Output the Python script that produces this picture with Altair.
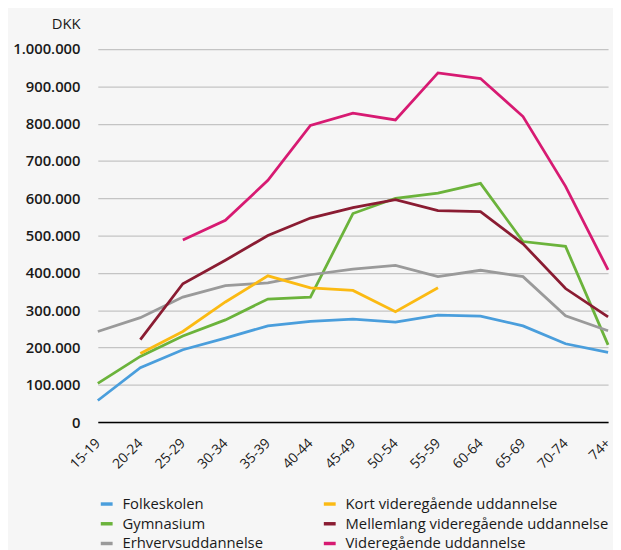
import altair as alt
import pandas as pd

ages = ["15-19", "20-24", "25-29", "30-34", "35-39", "40-44", "45-49",
        "50-54", "55-59", "60-64", "65-69", "70-74", "74+"]

series_names = ["Folkeskolen", "Gymnasium", "Erhvervsuddannelse",
                "Kort videregående uddannelse",
                "Mellemlang videregående uddannelse",
                "Videregående uddannelse"]
colors = ["#4A9EDC", "#6BB33B", "#9A9A9A", "#FBBA13", "#8A1C32", "#D71A72"]

folkeskolen = [58000, 146000, 194000, 225000, 258000, 270000, 276000,
               268000, 287000, 284000, 258000, 210000, 187000]
gymnasium = [104000, 176000, 231000, 274000, 330000, 335000, 559000,
             600000, 614000, 640000, 484000, 471000, 207000]
erhverv = [243000, 280000, 335000, 366000, 373000, 395000, 410000,
           420000, 390000, 407000, 390000, 285000, 245000]
kort = [None, 184000, 243000, 322000, 392000, 360000, 353000,
        296000, 360000, None, None, None, None]
mellemlang = [None, 221000, 371000, 434000, 500000, 547000, 575000,
              596000, 567000, 564000, 478000, 358000, 282000]
videre = [None, None, 488000, 541000, 648000, 795000, 828000,
          810000, 936000, 921000, 819000, 632000, 408000]

values = {
    "Folkeskolen": folkeskolen,
    "Gymnasium": gymnasium,
    "Erhvervsuddannelse": erhverv,
    "Kort videregående uddannelse": kort,
    "Mellemlang videregående uddannelse": mellemlang,
    "Videregående uddannelse": videre,
}

rows = []
for name in series_names:
    for age, v in zip(ages, values[name]):
        if v is not None:
            rows.append({"alder": age, "serie": name, "dkk": v})
df = pd.DataFrame(rows)

FONT = "Open Sans"

chart = alt.Chart(df).mark_line(strokeWidth=2.8, strokeJoin="miter").encode(
    x=alt.X("alder:N", sort=ages,
            scale=alt.Scale(type="point", padding=0),
            axis=alt.Axis(title=None, labelAngle=-45, labelAlign="right",
                          labelBaseline="middle", labelPadding=19,
                          ticks=False, grid=False, domainColor="#000000",
                          domainWidth=1.5, labelFont=FONT, labelFontSize=14,
                          labelColor="#1a1a1a")),
    y=alt.Y("dkk:Q",
            scale=alt.Scale(domain=[0, 1000000]),
            axis=alt.Axis(title="DKK", titleAngle=0, titleAlign="right",
                          titleBaseline="alphabetic", titleX=-18, titleY=-21,
                          titleFont=FONT, titleFontSize=15, titleFontWeight=500,
                          titleColor="#1a1a1a",
                          values=list(range(0, 1000001, 100000)),
                          labelExpr="replace(format(datum.value, ','), /,/g, '.')",
                          labelFont=FONT, labelFontSize=15, labelFontWeight=600,
                          labelColor="#1a1a1a", labelPadding=18,
                          ticks=False, domain=False, gridColor="#c4c4c4",
                          gridWidth=1.2)),
    color=alt.Color("serie:N", sort=series_names,
                    scale=alt.Scale(domain=series_names, range=colors),
                    legend=alt.Legend(title=None, orient="none", legendX=1,
                                      legendY=453, columns=2, columnPadding=54,
                                      rowPadding=4, symbolType="stroke",
                                      symbolSize=144, symbolStrokeWidth=3.5,
                                      labelFont=FONT, labelFontSize=15,
                                      labelColor="#1a1a1a", labelLimit=400,
                                      symbolOffset=0, labelOffset=8)),
    order=alt.Order("serie:N"),
).properties(
    width=517, height=378,
    autosize=alt.AutoSizeParams(type="none"),
    padding={"left": 91, "top": 38, "right": 5, "bottom": 126},
    background="#f6f6f6",
).configure_view(stroke=None)

chart.save("out.html", embed_options={"renderer": "svg", "actions": False})
